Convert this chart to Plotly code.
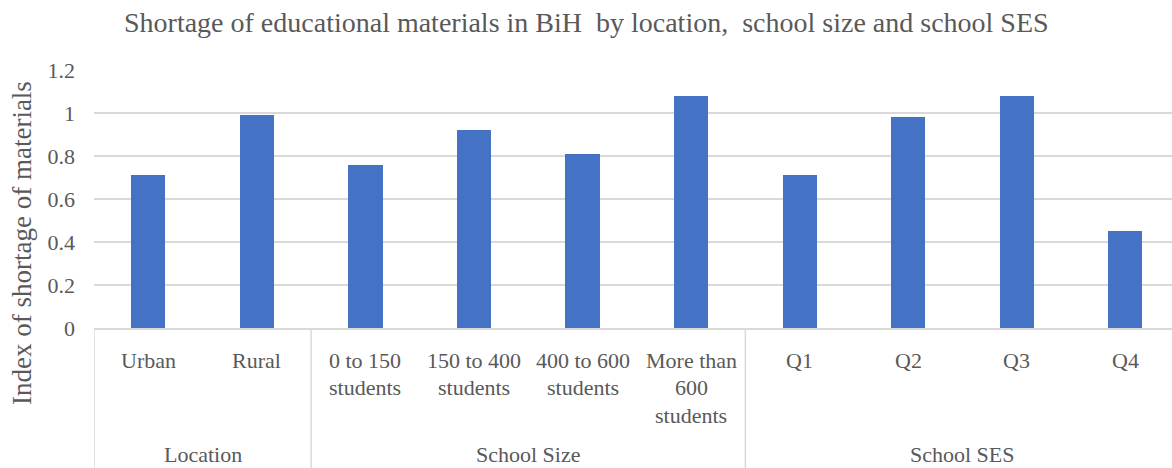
import plotly.graph_objects as go

# Data
categories = ["Urban", "Rural", "0 to 150\nstudents", "150 to 400\nstudents",
              "400 to 600\nstudents", "More than\n600\nstudents",
              "Q1", "Q2", "Q3", "Q4"]
values = [0.71, 0.99, 0.76, 0.92, 0.81, 1.08, 0.71, 0.98, 1.08, 0.45]
groups = ["Location", "School Size", "School SES"]
group_sizes = [2, 4, 4]
y_ticks = [0, 0.2, 0.4, 0.6, 0.8, 1, 1.2]

FONT = "Liberation Serif, DejaVu Serif, serif"
GREY = "#595959"
GRID = "#d9d9d9"
BAR = "#4472c4"

x_idx = list(range(len(categories)))

fig = go.Figure(go.Bar(
    x=x_idx, y=values, width=0.315,
    marker=dict(color=BAR, line=dict(width=0)),
    hoverinfo="skip",
))

annotations = []
shapes = []

# Category labels, one annotation per line for wider line spacing
line_gap = 27.5
for i, lab in enumerate(categories):
    for j, part in enumerate(lab.split("\n")):
        annotations.append(dict(
            x=i, xref="x", y=0, yref="paper", text=part, showarrow=False,
            xanchor="center", yanchor="middle", yshift=-32 - j * line_gap,
            font=dict(family=FONT, size=22, color=GREY),
        ))

# Group labels and separators
start = 0
bounds = [-0.5]
for g, n in zip(groups, group_sizes):
    center = start + (n - 1) / 2
    annotations.append(dict(
        x=center, xref="x", y=0, yref="paper", text=g, showarrow=False,
        xanchor="center", yanchor="middle", yshift=-126,
        font=dict(family=FONT, size=22, color=GREY),
    ))
    start += n
    bounds.append(start - 0.5)

for b in bounds:
    shapes.append(dict(
        type="line", xref="x", yref="paper", x0=b, x1=b, y0=0, y1=-0.6,
        line=dict(color=GRID, width=1.5), layer="above",
    ))

# Title (centred on the whole figure) and y-axis title
annotations.append(dict(
    x=0.5, xref="paper", xshift=-47, y=1, yref="paper", yshift=48,
    text="Shortage of educational materials in BiH  by location,  school size and school SES",
    showarrow=False, xanchor="center", yanchor="middle",
    font=dict(family=FONT, size=28, color=GREY),
))
annotations.append(dict(
    x=0, xref="paper", xshift=-72, y=0.5, yref="paper", yshift=-44,
    text="Index of shortage of materials", textangle=-90,
    showarrow=False, xanchor="center", yanchor="middle",
    font=dict(family=FONT, size=27, color=GREY),
))

fig.update_layout(
    width=1172, height=468,
    margin=dict(l=94, r=0, t=70, b=140),
    plot_bgcolor="white", paper_bgcolor="white",
    showlegend=False,
    font=dict(family=FONT, color=GREY),
    annotations=annotations,
    shapes=shapes,
    xaxis=dict(
        range=[-0.5, 9.43], showticklabels=False, showgrid=False,
        zeroline=False, showline=True, linecolor=GRID, linewidth=1.5,
        ticks="", fixedrange=True,
    ),
    yaxis=dict(
        range=[0, 1.2], tickvals=y_ticks, ticktext=[f"{v:g}" for v in y_ticks],
        showgrid=True, gridcolor=GRID, gridwidth=1.5,
        zeroline=False, showline=False, ticks="",
        ticklabelstandoff=18,
        tickfont=dict(family=FONT, size=22, color=GREY),
    ),
    bargap=0,
)

fig.write_html("out.html")
